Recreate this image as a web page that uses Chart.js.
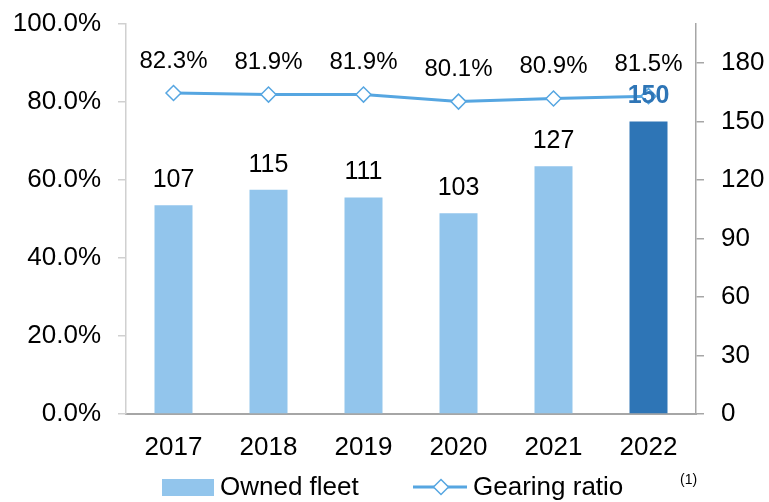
<!DOCTYPE html>
<html>
<head>
<meta charset="utf-8">
<script src="https://cdn.jsdelivr.net/npm/chart.js@4"></script>
<style>
  html, body { margin: 0; padding: 0; background: #fff; }
</style>
</head>
<body>
<canvas id="myChart" width="769" height="502"></canvas>
<script>
const years = ['2017', '2018', '2019', '2020', '2021', '2022'];
const ownedFleet = [107, 115, 111, 103, 127, 150];
const gearingRatio = [0.823, 0.819, 0.819, 0.801, 0.809, 0.815];
const fleetTicks = [0, 30, 60, 90, 120, 150, 180];

const lightBlue = '#92C5EC';
const darkBlue = '#2E75B6';
const lineBlue = '#56A6E1';
const font = 'Liberation Sans, Arial, sans-serif';

const barColors = ownedFleet.map((v, i) => i === ownedFleet.length - 1 ? darkBlue : lightBlue);

const labelPlugin = {
  id: 'valueLabels',
  afterDatasetsDraw: (chart) => {
    const {ctx} = chart;
    ctx.save();
    ctx.textAlign = 'center';
    ctx.textBaseline = 'middle';
    const bars = chart.getDatasetMeta(1).data;
    bars.forEach((bar, i) => {
      const last = i === bars.length - 1;
      ctx.font = (last ? 'bold ' : '') + '25px ' + font;
      ctx.fillStyle = last ? darkBlue : '#000';
      ctx.fillText(ownedFleet[i], bar.x, bar.y - 25);
    });
    const pts = chart.getDatasetMeta(0).data;
    ctx.font = '24px ' + font;
    ctx.fillStyle = '#000';
    pts.forEach((p, i) => {
      ctx.fillText((gearingRatio[i] * 100).toFixed(1) + '%', p.x, p.y - 32);
    });
    ctx.restore();
  }
};

const legendPlugin = {
  id: 'bottomLegend',
  afterDraw: (chart) => {
    const {ctx} = chart;
    ctx.save();
    const cy = 487;
    ctx.fillStyle = lightBlue;
    ctx.fillRect(162, 479, 52, 17);
    ctx.fillStyle = '#000';
    ctx.font = '26px ' + font;
    ctx.textBaseline = 'middle';
    ctx.textAlign = 'left';
    ctx.fillText('Owned fleet', 220, cy + 1);
    ctx.strokeStyle = lineBlue;
    ctx.lineWidth = 3;
    ctx.beginPath();
    ctx.moveTo(413, cy);
    ctx.lineTo(467, cy);
    ctx.stroke();
    ctx.fillStyle = '#fff';
    ctx.lineWidth = 1.5;
    ctx.beginPath();
    ctx.moveTo(441, cy - 7.5);
    ctx.lineTo(448.5, cy);
    ctx.lineTo(441, cy + 7.5);
    ctx.lineTo(433.5, cy);
    ctx.closePath();
    ctx.fill();
    ctx.stroke();
    ctx.fillStyle = '#000';
    ctx.fillText('Gearing ratio', 473, cy + 1);
    ctx.font = '14px ' + font;
    ctx.fillText('(1)', 680, 480);
    ctx.restore();
  }
};

const fixPadding = (s) => { s.paddingTop = 0; s.paddingBottom = 0; };

new Chart(document.getElementById('myChart'), {
  data: {
    labels: years,
    datasets: [
      {
        type: 'line',
        label: 'Gearing ratio',
        data: gearingRatio,
        yAxisID: 'y',
        borderColor: lineBlue,
        borderWidth: 3,
        pointStyle: 'rectRot',
        pointRadius: 7.5,
        pointBorderWidth: 1.5,
        pointBackgroundColor: '#fff',
        pointBorderColor: lineBlue,
        tension: 0,
        order: 0
      },
      {
        type: 'bar',
        label: 'Owned fleet',
        data: ownedFleet,
        yAxisID: 'y1',
        backgroundColor: barColors,
        borderWidth: 0,
        barPercentage: 0.4,
        categoryPercentage: 1,
        order: 1
      }
    ]
  },
  options: {
    responsive: false,
    animation: false,
    layout: { padding: { left: 0, right: 0, top: 24, bottom: 38 } },
    plugins: {
      legend: { display: false },
      tooltip: { enabled: false }
    },
    scales: {
      x: {
        grid: { display: false },
        border: { display: true, color: '#a6a6a6', width: 2 },
        ticks: { color: '#000', font: { family: font, size: 26 }, padding: 10, maxRotation: 0 },
        afterFit: (s) => { s.height = 50; s.paddingLeft = 0; s.paddingRight = 0; }
      },
      y: {
        position: 'left',
        min: 0,
        max: 1,
        grid: { display: true, drawOnChartArea: false, drawTicks: true, tickLength: 8, color: '#d0d0d0', lineWidth: 1.5 },
        border: { display: true, color: '#d0d0d0', width: 1.5 },
        ticks: {
          stepSize: 0.2,
          color: '#000',
          padding: 17,
          font: { family: font, size: 26 },
          callback: (v) => (v * 100).toFixed(1) + '%'
        },
        afterFit: (s) => { s.width = 126; fixPadding(s); }
      },
      y1: {
        position: 'right',
        min: 0,
        max: 200,
        grid: { display: true, drawOnChartArea: false, drawTicks: true, tickLength: 8, color: '#a6a6a6', lineWidth: 1.5 },
        border: { display: true, color: '#a6a6a6', width: 1.5 },
        ticks: {
          stepSize: 30,
          color: '#000',
          padding: 17,
          font: { family: font, size: 26 }
        },
        afterBuildTicks: (s) => {
          s.ticks = fleetTicks.map(v => ({ value: v }));
        },
        afterFit: (s) => { s.width = 73; fixPadding(s); }
      }
    }
  },
  plugins: [labelPlugin, legendPlugin]
});
</script>
</body>
</html>
